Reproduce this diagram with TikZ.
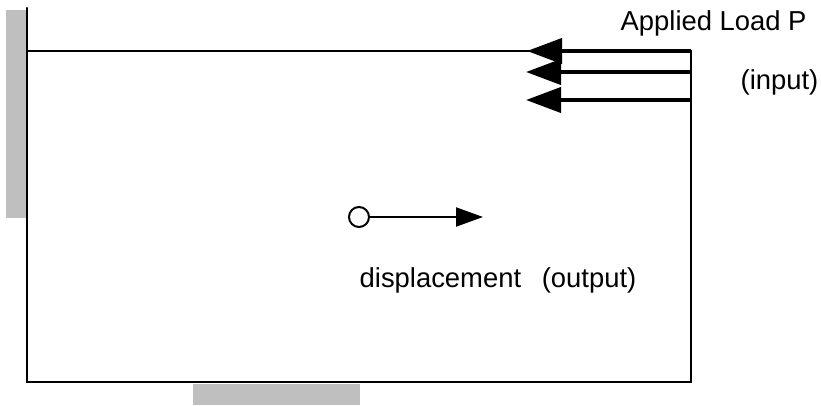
\documentclass[tikz,border=0pt]{standalone}
\usepackage{fontspec}
\setmainfont{Liberation Sans}
\usetikzlibrary{arrows.meta}
\definecolor{support}{gray}{0.75}
\tikzset{x=1pt, y=-1pt,
      every node/.style={font=\fontsize{27.4}{30}\selectfont, inner sep=0pt, anchor=base west},
      outline/.style={draw, line width=2.4pt}, % Plate edges
      support/.style={fill=support, draw=none}, % Grey supports
      load/.style={line width=4pt, -{Triangle[length=35pt,width=25pt]}}, % Applied load arrows
      output/.style={line width=2pt, -{Triangle[length=27pt,width=19pt]}}, % Displacement arrow
      probe/.style={circle, draw, line width=2pt, fill=white, minimum size=20pt, anchor=center}}

\begin{document}
\begin{tikzpicture}
      \useasboundingbox (0,0) rectangle (821,406);
      \fill[support] (6,10) rectangle (27,218);
      \fill[support] (193,384) rectangle (360,404.5);
      \coordinate (topstub) at (27,8);
      \coordinate (corner1) at (27,51);
      \coordinate (corner2) at (691,51);
      \coordinate (corner3) at (691,382);
      \coordinate (corner4) at (27,382);
      \draw[outline, line cap=round] (topstub) -- (corner4) -- (corner3) -- (corner2) -- (corner1);
      \coordinate (load1) at (691,72);
      \coordinate (load2) at (691,100);
      \coordinate (tip0) at (527,51);
      \coordinate (tip1) at (526,72);
      \coordinate (tip2) at (526,100);
      \draw[load] (corner2) -- (tip0);
      \draw[load] (load1) -- (tip1);
      \draw[load] (load2) -- (tip2);
      \node[probe] (probe) at (359,217) {};
      \coordinate (probetip) at (483,217);
      \draw[output] (probe) -- (probetip);
      \node (loadtext) at (620.5,30.5) {Applied Load P};
      \node (inputtext) at (740.5,89.5) {(input)};
      \node (outputtext) at (359.5,287) {displacement\ \ \hspace{5.5pt}(output)};
\end{tikzpicture}
\end{document}
